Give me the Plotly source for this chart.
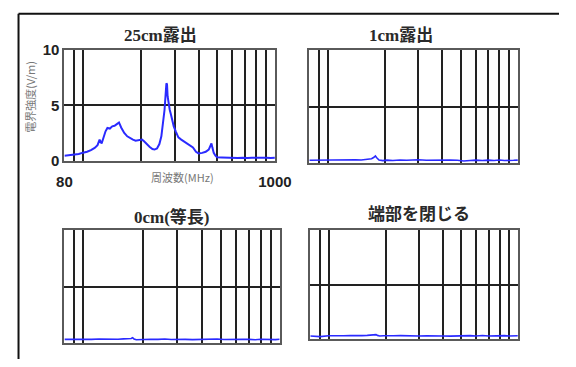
import plotly.graph_objects as go

# ---- data ----
freq1 = [80, 85, 90, 95, 100, 105, 110, 115, 119, 122, 125, 128, 131, 134, 138, 142, 146, 150, 154,
         158, 164, 170, 175, 182, 188, 195, 203, 208, 214, 222, 230, 236, 243, 250, 256, 262, 266,
         270, 272, 274, 276, 279, 283, 287, 291, 297, 305, 314, 325, 340, 355, 374, 388, 400, 418,
         436, 452, 462, 467, 472, 480, 490, 500, 530, 560, 600, 640, 680, 720, 760, 800, 850, 900,
         950, 1000]
val1 = [0.45, 0.5, 0.55, 0.6, 0.72, 0.8, 0.95, 1.15, 1.4, 1.9, 1.55, 2.1, 2.65, 2.95, 2.9, 3.1, 3.15,
        3.3, 3.45, 3.0, 2.5, 2.2, 2.05, 1.9, 1.8, 1.85, 1.9, 1.75, 1.5, 1.25, 1.05, 1.0, 1.1, 1.5,
        2.2, 3.4, 4.6, 6.2, 7.0, 6.9, 5.8, 5.1, 4.6, 4.2, 3.6, 3.1, 2.6, 2.1, 1.9, 1.65, 1.45, 1.2,
        0.8, 0.65, 0.7, 0.8, 1.0, 1.35, 1.55, 1.2, 0.7, 0.45, 0.3, 0.28, 0.25, 0.27, 0.24, 0.26,
        0.23, 0.27, 0.28, 0.25, 0.27, 0.24, 0.26]

freq_low = [80, 90, 100, 110, 120, 130, 140, 150, 160, 170, 175, 178, 181, 186, 195, 205, 220, 240,
            260, 280, 300, 330, 360, 400, 440, 480, 520, 560, 600, 650, 700, 750, 800, 850, 900, 950,
            1000]
val2 = [0.28, 0.3, 0.27, 0.3, 0.32, 0.3, 0.33, 0.31, 0.36, 0.42, 0.55, 0.66, 0.5, 0.3, 0.25, 0.3,
        0.27, 0.31, 0.28, 0.3, 0.33, 0.29, 0.31, 0.27, 0.3, 0.28, 0.22, 0.27, 0.3, 0.26, 0.3, 0.27,
        0.31, 0.26, 0.3, 0.28, 0.3]
val3 = [0.3, 0.28, 0.32, 0.3, 0.33, 0.31, 0.34, 0.32, 0.35, 0.33, 0.38, 0.45, 0.34, 0.27, 0.3, 0.28,
        0.32, 0.3, 0.33, 0.29, 0.31, 0.3, 0.28, 0.32, 0.3, 0.33, 0.29, 0.31, 0.28, 0.32, 0.3, 0.27,
        0.31, 0.29, 0.3, 0.28, 0.31]
val4 = [0.28, 0.22, 0.3, 0.27, 0.3, 0.32, 0.29, 0.31, 0.33, 0.36, 0.38, 0.4, 0.33, 0.28, 0.3, 0.27,
        0.29, 0.31, 0.28, 0.3, 0.27, 0.29, 0.31, 0.28, 0.26, 0.3, 0.27, 0.31, 0.28, 0.32, 0.27, 0.3,
        0.26, 0.31, 0.28, 0.3, 0.29]

titles = ["25cm露出", "1cm露出", "0cm(等長)", "端部を閉じる"]
grid_freqs = [90, 100, 200, 300, 400, 500, 600, 700, 800, 900]
y_ticks = [0, 5, 10]
x_tick_labels = ["80", "1000"]
y_title = "電界強度(V/m)"
x_title = "周波数(MHz)"

W, H = 576, 367

def px(x):
    return x / W

def py(y):
    return 1 - y / H

# panel boxes in pixels (left, right, top, bottom)
boxes = [(59, 279, 43, 159), (315, 533, 43, 162), (59, 284, 232, 350), (316, 533, 232, 346)]
series = [(freq1, val1, 2.0), (freq_low, val2, 1.6), (freq_low, val3, 1.6), (freq_low, val4, 1.6)]
title_pos = [(159, 28), (411, 28), (171, 218), (430, 215)]

fig = go.Figure()
layout = {}
tick_font = dict(family="Liberation Sans, Arial", size=15, color="#222")
for i, ((l, r, t, b), (fx, fv, lw)) in enumerate(zip(boxes, series)):
    n = "" if i == 0 else str(i + 1)
    xa, ya = "x" + n, "y" + n
    fig.add_trace(go.Scatter(x=fx, y=fv, mode="lines", xaxis=xa, yaxis=ya,
                             line=dict(color="#2a2aff", width=lw), showlegend=False,
                             hoverinfo="skip"))
    first = (i == 0)
    tickv = [80] + grid_freqs + [1000]
    tickt = ["<b>" + x_tick_labels[0] + "</b>"] + [""] * len(grid_freqs) + ["<b>" + x_tick_labels[1] + "</b>"]
    layout["xaxis" + n] = dict(
        domain=[px(l), px(r)], anchor=ya, type="log",
        range=[1.90309, 3.0], tickvals=tickv, ticktext=tickt,
        showticklabels=first, showgrid=True, gridcolor="#222", gridwidth=1.6,
        showline=True, mirror=True, linecolor="#5a5a5a", linewidth=2,
        zeroline=False, ticks="outside" if first else "", ticklen=6,
        tickcolor="rgba(0,0,0,0)", tickfont=tick_font, fixedrange=True)
    layout["yaxis" + n] = dict(
        domain=[py(b), py(t)], anchor=xa, range=[0, 10], tickvals=y_ticks,
        ticktext=["<b>" + str(v) + "</b>" for v in y_ticks],
        showticklabels=first, showgrid=True, gridcolor="#222", gridwidth=1.6,
        showline=True, mirror=True, linecolor="#5a5a5a", linewidth=2,
        zeroline=False, ticks="", tickfont=tick_font, fixedrange=True)

annotations = []
for (tx, ty), txt in zip(title_pos, titles):
    annotations.append(dict(x=px(tx), y=py(ty), xref="paper", yref="paper", text="<b>" + txt + "</b>",
                            showarrow=False, xanchor="center", yanchor="middle",
                            font=dict(family="Liberation Serif, Noto Sans CJK JP", size=17, color="#2a2a2a")))
annotations.append(dict(x=px(23), y=py(92), xref="paper", yref="paper", text=y_title, textangle=-90,
                        showarrow=False, xanchor="center", yanchor="middle",
                        font=dict(family="Noto Sans CJK JP", size=11, color="#777")))
annotations.append(dict(x=px(182), y=py(176), xref="paper", yref="paper", text=x_title,
                        showarrow=False, xanchor="center", yanchor="middle",
                        font=dict(family="Noto Sans CJK JP", size=11, color="#777")))

shapes = [
    dict(type="line", xref="paper", yref="paper", x0=px(11), x1=1.0, y0=py(5), y1=py(5),
         line=dict(color="#111", width=2)),
    dict(type="line", xref="paper", yref="paper", x0=px(11), x1=px(11), y0=py(5), y1=0,
         line=dict(color="#111", width=2)),
]

fig.update_layout(width=W, height=H, margin=dict(l=0, r=0, t=0, b=0),
                  paper_bgcolor="white", plot_bgcolor="white",
                  annotations=annotations, shapes=shapes, **layout)

fig.write_html("out.html", config={"displayModeBar": False},
               post_script="document.body.style.margin='0px';document.body.style.overflow='hidden';")
